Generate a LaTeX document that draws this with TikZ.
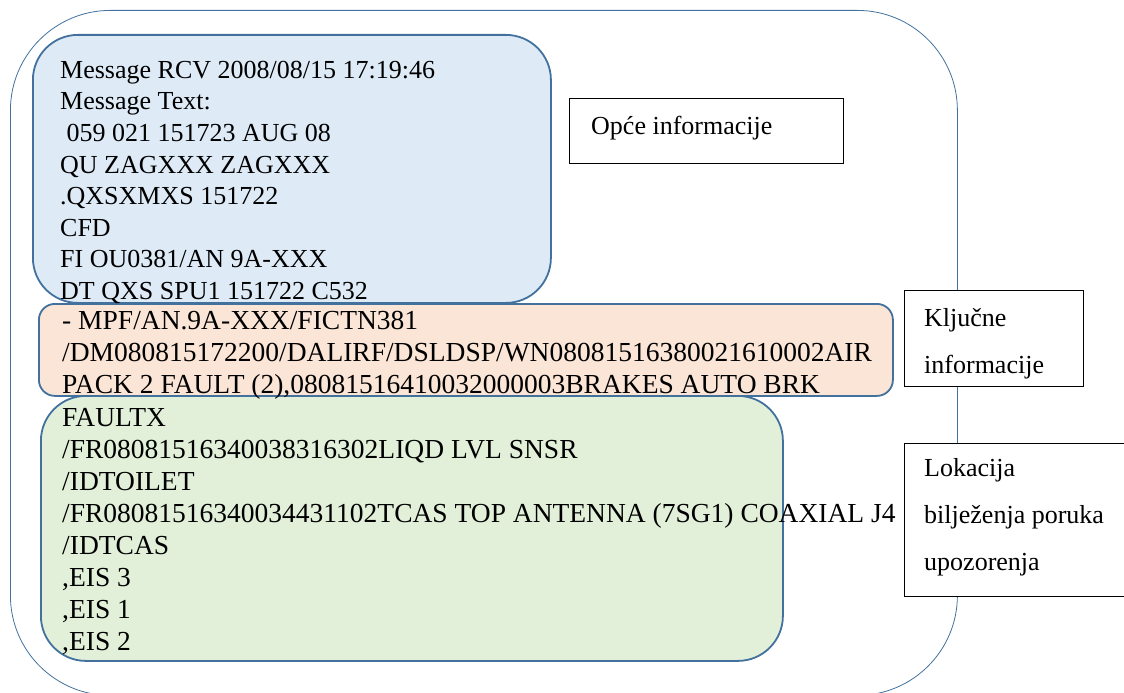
\documentclass[tikz,border=0pt]{standalone}
\usepackage{xcolor}
\usepackage{fontspec}
\setmainfont{Liberation Serif}
\usepackage{tikz}
\usetikzlibrary{positioning}
\definecolor{msgborder}{RGB}{65, 113, 156}
\definecolor{msgblue}{RGB}{222, 235, 247}
\definecolor{msgorange}{RGB}{251, 229, 214}
\definecolor{msggreen}{RGB}{226, 240, 217}

\begin{document}
\begin{tikzpicture}[
  x=1pt, y=-1pt,
  outerframe/.style={rectangle, draw=msgborder, line width=0.8pt, rounded corners=100pt, anchor=north west, inner sep=0pt},
  msgbox/.style={rectangle, draw=msgborder, line width=1.8pt, anchor=north west, inner sep=0pt},
  labelbox/.style={rectangle, draw=black, line width=1.1pt, fill=white, anchor=north west, inner sep=0pt},
  msgtext/.style={anchor=north west, inner sep=0pt, align=left, font=\fontsize{26}{31.6}\selectfont, execute at begin node=\strut},
  widetext/.style={msgtext, font=\fontsize{27.5}{32}\selectfont},
  labeltext/.style={anchor=north west, inner sep=0pt, align=left, font=\fontsize{26}{47}\selectfont, execute at begin node=\strut},
]
  \useasboundingbox (0,0) rectangle (1124,693);
  \node[outerframe, minimum width=947pt, minimum height=685pt] (border) at (10,10) {};

  \node[msgbox, rounded corners=45pt, fill=msgblue, minimum width=518pt, minimum height=268pt] (general) at (32,34) {};
  \node[msgbox, rounded corners=16pt, fill=msgorange, minimum width=854pt, minimum height=92pt] (key) at (38,303) {};
  \node[msgbox, rounded corners=45pt, fill=msggreen, minimum width=742pt, minimum height=265pt] (location) at (40,395) {};

  \node[msgtext] (generaltext) at (60,60.9) {Message RCV 2008/08/15 17:19:46\\Message Text:\\\hspace*{.25em}059 021 151723 AUG 08\\QU ZAGXXX ZAGXXX\\.QXSXMXS 151722\\CFD\\FI OU0381/AN 9A-XXX\\DT QXS SPU1 151722 C532};
  \node[widetext] (keytext) at (62,310.9) {- MPF/AN.9A-XXX/FICTN381\\/DM080815172200/DALIRF/DSLDSP/WN08081516380021610002AIR\\PACK 2 FAULT (2),08081516410032000003BRAKES AUTO BRK};
  \node[widetext] (locationtext) at (62,407.9) {FAULTX\\/FR08081516340038316302LIQD LVL SNSR\\/IDTOILET\\/FR08081516340034431102TCAS TOP ANTENNA (7SG1) COAXIAL J4\\/IDTCAS\\,EIS 3\\,EIS 1\\,EIS 2};

  \node[labelbox, minimum width=274pt, minimum height=65pt] (generallabel) at (569,98) {};
  \node[labelbox, minimum width=179pt, minimum height=96pt] (keylabel) at (904,290) {};
  \node[labelbox, minimum width=230pt, minimum height=153pt] (locationlabel) at (904,443) {};

  \node[labeltext] (generalname) at (591,101.8) {Opće informacije};
  \node[labeltext] (keyname) at (924,307.8) {Ključne\\informacije};
  \node[labeltext] (locationname) at (924,457.8) {Lokacija\\bilježenja poruka\\upozorenja};
\end{tikzpicture}
\end{document}
